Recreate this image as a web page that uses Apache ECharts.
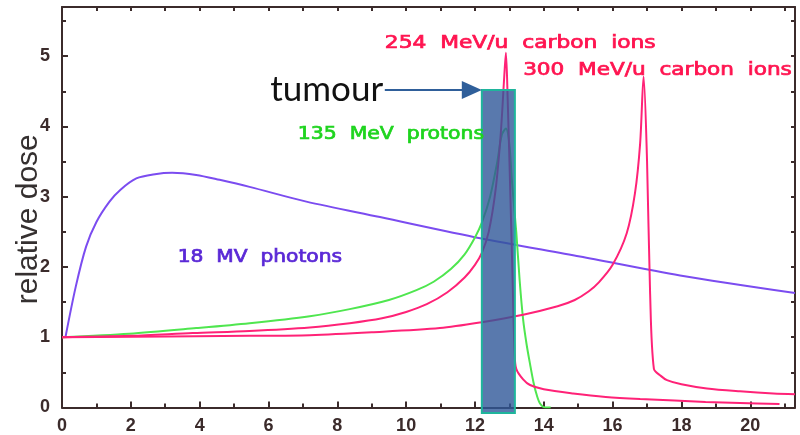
<!DOCTYPE html>
<html>
<head>
<meta charset="utf-8">
<script src="https://cdn.jsdelivr.net/npm/echarts@6/dist/echarts.min.js"></script>
<style>html,body{margin:0;padding:0;background:#fff;}#c{width:800px;height:435px;}</style>
</head>
<body>
<div id="c"></div>
<script>
// ---- data (depth in cm, relative dose) ----
const photons18MV = [[0.1,1.0],[0.4,1.72],[0.7,2.29],[1.0,2.64],[1.38,2.93],[1.7,3.1],[2.16,3.26],[2.7,3.32],[3.2,3.34],[3.9,3.31],[4.58,3.24],[5.45,3.14],[7.1,2.93],[9.24,2.71],[12.15,2.41],[15.05,2.15],[17.96,1.88],[21.3,1.63]];
const protons135 = [[0,1.0],[1.95,1.05],[3.9,1.13],[5.45,1.2],[7.2,1.3],[8.36,1.4],[9.5,1.53],[10.3,1.67],[10.8,1.79],[11.3,1.97],[11.7,2.18],[12.0,2.42],[12.2,2.63],[12.44,3.0],[12.65,3.5],[12.78,3.88],[12.9,3.97],[13.0,3.75],[13.07,3.25],[13.2,2.5],[13.3,1.8],[13.4,1.25],[13.5,0.9],[13.6,0.62],[13.7,0.36],[13.8,0.17],[13.9,0.05],[14.05,0.0],[14.2,0.0]];
const carbon254 = [[0,1.0],[2,1.02],[3.8,1.06],[5.45,1.09],[7.2,1.14],[8.36,1.2],[9.3,1.27],[10.0,1.36],[10.6,1.47],[11.2,1.64],[11.7,1.85],[12.0,2.03],[12.2,2.2],[12.4,2.5],[12.6,3.1],[12.75,3.9],[12.85,4.7],[12.9,5.05],[12.95,4.4],[13.03,3.0],[13.1,1.7],[13.15,0.8],[13.2,0.55],[13.4,0.4],[13.6,0.32],[14.0,0.26],[14.85,0.2],[15.8,0.15],[16.8,0.12],[17.8,0.1],[18.7,0.08],[19.7,0.065],[20.85,0.05]];
const carbon300 = [[0,1.0],[5.45,1.02],[7.2,1.03],[9,1.07],[10.98,1.13],[12.15,1.21],[13.4,1.32],[14.4,1.44],[14.9,1.53],[15.3,1.65],[15.6,1.78],[16.0,2.03],[16.41,2.48],[16.65,3.05],[16.8,3.76],[16.9,4.71],[17.0,3.52],[17.09,1.62],[17.2,0.55],[17.4,0.45],[17.58,0.39],[18.0,0.33],[18.74,0.27],[19.7,0.23],[20.67,0.2],[21.3,0.19]];

// tumour region [xStart, xEnd, yTop, yBottom] and arrow [xStart, xEnd, y]
const tumourBox = [12.2, 13.16, 4.52, -0.08];
const tumourArrow = [9.38, 12.2, 4.52];

// annotation texts and their anchor (data coords)
const labelTexts = ['254  MeV/u  carbon  ions','300  MeV/u  carbon  ions','135  MeV  protons','18  MV  photons','tumour'];
const labelX = [9.38, 13.4, 6.85, 3.36, 6.05];
const labelY = [5.18, 4.8, 3.88, 2.13, 4.52];

const xTicksMajor = 2, xTicksMinor = 1, yTicksMajor = 1, yTicksMinor = 0.5;
const xMin = 0, xMax = 21.3, yMin = 0, yMax = 5.7;

// ---- styles ----
const axisColor = '#3b2b2b';
const lineColors = {photon:'#7b4cf0', proton:'#4fe64f', carbon:'#ff2277'};
const annFont = '17px "DejaVu Sans"';
const labelStyles = [
  {fill:'#ff1450', font:annFont, sx:1.28, sw:0.7},
  {fill:'#ff1450', font:annFont, sx:1.27, sw:0.7},
  {fill:'#1ed41e', font:annFont, sx:1.2, sw:0.7},
  {fill:'#5a28d6', font:annFont, sx:1.19, sw:0.7},
  {fill:'#111111', font:'35px Lato', sx:1, sw:0}
];

const chart = echarts.init(document.getElementById('c'), null, {renderer:'canvas'});

function xAx(extra){
  return Object.assign({type:'value', min:xMin, max:xMax, splitLine:{show:false},
    axisLine:{show:false, onZero:false}, axisLabel:{show:false}, axisTick:{show:false}}, extra);
}
function yAx(extra){
  return Object.assign({type:'value', min:yMin, max:yMax, splitLine:{show:false},
    axisLine:{show:false, onZero:false}, axisLabel:{show:false}, axisTick:{show:false}}, extra);
}
const lineStyleAxis = {show:true, onZero:false, lineStyle:{color:axisColor, width:2}};
const tickLab = {show:true, color:axisColor, fontFamily:'Liberation Sans', fontWeight:'bold', fontSize:18, showMaxLabel:false};

function lineSeries(name, data, color){
  return {type:'line', name, data, xAxisIndex:0, yAxisIndex:0, showSymbol:false, symbol:'none',
    smooth:0.3, lineStyle:{color, width:2}, itemStyle:{color}, z:2, silent:true, clip:true};
}

const option = {
  animation:false,
  backgroundColor:'#ffffff',
  grid:{left:62, right:5, top:7, bottom:27.5, containLabel:false, outerBoundsMode:'none'},
  xAxis:[
    xAx({position:'bottom', interval:xTicksMajor, axisLine:lineStyleAxis,
      axisTick:{show:true, inside:true, length:6, lineStyle:{color:axisColor, width:2}},
      axisLabel:Object.assign({margin:10}, tickLab)}),
    xAx({position:'bottom', interval:xTicksMinor,
      axisTick:{show:true, inside:true, length:4, lineStyle:{color:axisColor, width:2}}}),
    xAx({position:'top', interval:xTicksMinor, axisLine:lineStyleAxis,
      axisTick:{show:true, inside:true, length:4, lineStyle:{color:axisColor, width:2}}})
  ],
  yAxis:[
    yAx({position:'left', interval:yTicksMajor, axisLine:lineStyleAxis,
      axisTick:{show:true, inside:true, length:6, lineStyle:{color:axisColor, width:2}},
      axisLabel:Object.assign({margin:12}, tickLab),
      name:'relative dose', nameLocation:'middle', nameGap:18, nameMoveOverlap:false,
      nameTextStyle:{fontFamily:'Liberation Sans', fontSize:30, color:'#353030', padding:[0,24,0,0]}}),
    yAx({position:'left', interval:yTicksMinor,
      axisTick:{show:true, inside:true, length:4, lineStyle:{color:axisColor, width:2}}}),
    yAx({position:'right', interval:yTicksMinor, axisLine:lineStyleAxis,
      axisTick:{show:true, inside:true, length:4, lineStyle:{color:axisColor, width:2}}})
  ],
  series:[
    lineSeries('18 MV photons', photons18MV, lineColors.photon),
    lineSeries('135 MeV protons', protons135, lineColors.proton),
    lineSeries('254 MeV/u carbon ions', carbon254, lineColors.carbon),
    lineSeries('300 MeV/u carbon ions', carbon300, lineColors.carbon),
    {type:'custom', name:'tumour', xAxisIndex:0, yAxisIndex:0, clip:false, z:5, silent:true,
      data:[tumourBox],
      renderItem:function(params, api){
        const p0 = api.coord([api.value(0), api.value(2)]);
        const p1 = api.coord([api.value(1), api.value(3)]);
        return {type:'rect', shape:{x:p0[0], y:p0[1], width:p1[0]-p0[0], height:p1[1]-p0[1]},
          style:{fill:'rgba(47,88,152,0.8)', stroke:'#1fb59c', lineWidth:2}};
      }},
    {type:'custom', name:'arrow', xAxisIndex:0, yAxisIndex:0, clip:false, z:5, silent:true,
      data:[tumourArrow],
      renderItem:function(params, api){
        const a = api.coord([api.value(0), api.value(2)]);
        const b = api.coord([api.value(1), api.value(2)]);
        return {type:'group', children:[
          {type:'line', shape:{x1:a[0], y1:a[1], x2:b[0]-16, y2:b[1]}, style:{stroke:'#2f5f9a', lineWidth:2}},
          {type:'polygon', shape:{points:[[b[0],b[1]],[b[0]-20,b[1]-9],[b[0]-20,b[1]+9]]}, style:{fill:'#2f5f9a'}}
        ]};
      }},
    {type:'custom', name:'labels', xAxisIndex:0, yAxisIndex:0, clip:false, z:6, silent:true,
      data:labelX.map((x,i)=>[x, labelY[i], i]),
      renderItem:function(params, api){
        const p = api.coord([api.value(0), api.value(1)]);
        const i = api.value(2);
        const st = labelStyles[i];
        const style = {text:labelTexts[i], font:st.font, fill:st.fill, align:'left', verticalAlign:'middle'};
        if (st.sw) { style.stroke = st.fill; style.lineWidth = st.sw; }
        return {type:'text', x:p[0], y:p[1], scaleX:st.sx, scaleY:1, style};
      }}
  ]
};
chart.setOption(option);
</script>
</body>
</html>
